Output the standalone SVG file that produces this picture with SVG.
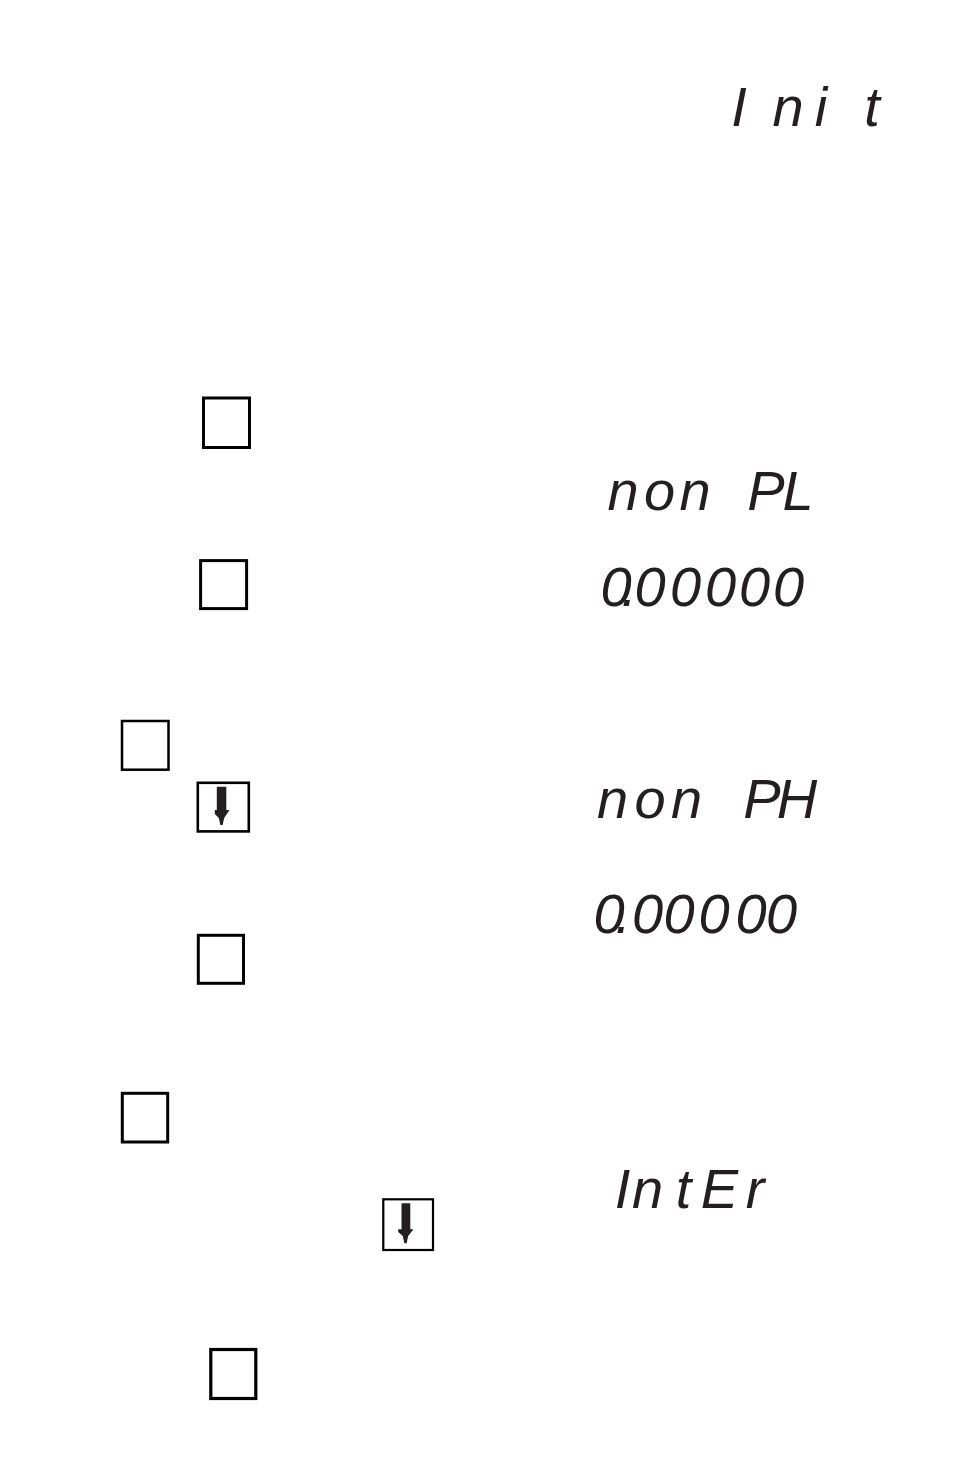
<svg xmlns="http://www.w3.org/2000/svg" width="954" height="1475" viewBox="0 0 954 1475">
<style>
.key{fill:#fff;stroke:#000;stroke-width:3}
.arr{fill:#231f20;stroke:none}
.seg{font-family:"Liberation Sans","DejaVu Sans",sans-serif;font-style:italic;font-size:56px;fill:#231f20;text-anchor:middle}
</style>
<rect width="954" height="1475" fill="#fff"/>
<g id="connectors"/>
<g id="disp-init"><text class="seg" x="739 788 821 872" y="126">Init</text></g>
<g id="key1"><rect class="key" x="203.5" y="398" width="46" height="49.5"/></g>
<g id="disp-nonpl"><text class="seg" x="623 659.5 695 730 766 798" y="510">non PL</text></g>
<g id="key2"><rect class="key" x="200.6" y="560.6" width="46" height="48"/></g>
<g id="disp-val1"><text class="seg" x="616 629 650 685.5 720.5 754.5 788.5" y="606">0.00000</text></g>
<g id="key3"><rect class="key" x="122" y="721" width="46.5" height="48.7" style="stroke-width:2.5"/></g>
<g id="key-down1"><rect class="key" x="197.8" y="782.8" width="51" height="48.6" style="stroke-width:2.6"/>
<path class="arr" d="M216.8 786.7 H226.3 V810 H229.5 L224.2 818 L222.6 825 H220.4 L218.8 818 L214.8 814 V810 H216.8 Z"/></g>
<g id="disp-nonph"><text class="seg" x="612.5 650 686.5 725 762 797" y="818">non PH</text></g>
<g id="disp-val2"><text class="seg" x="609 623 647.5 679 714 751 781.5" y="933">0.00000</text></g>
<g id="key4"><rect class="key" x="198.3" y="935.3" width="45.2" height="48"/></g>
<g id="key5"><rect class="key" x="122.3" y="1093.3" width="45.4" height="48.7"/></g>
<g id="disp-inter"><text class="seg" x="622.5 647.5 683.5 719.5 755" y="1208">IntEr</text></g>
<g id="key-down2"><rect class="key" x="383.3" y="1199.3" width="49.7" height="50.7" style="stroke-width:2.2"/>
<path class="arr" d="M401.5 1203.3 H410.3 V1229.3 H413.5 L408.2 1236 L406.6 1243.3 H404.4 L402.8 1236 L398.2 1232 V1229.3 H401.5 Z"/></g>
<g id="key6"><rect class="key" x="210.8" y="1349.5" width="45" height="49" style="stroke-width:3.2"/></g>
</svg>
